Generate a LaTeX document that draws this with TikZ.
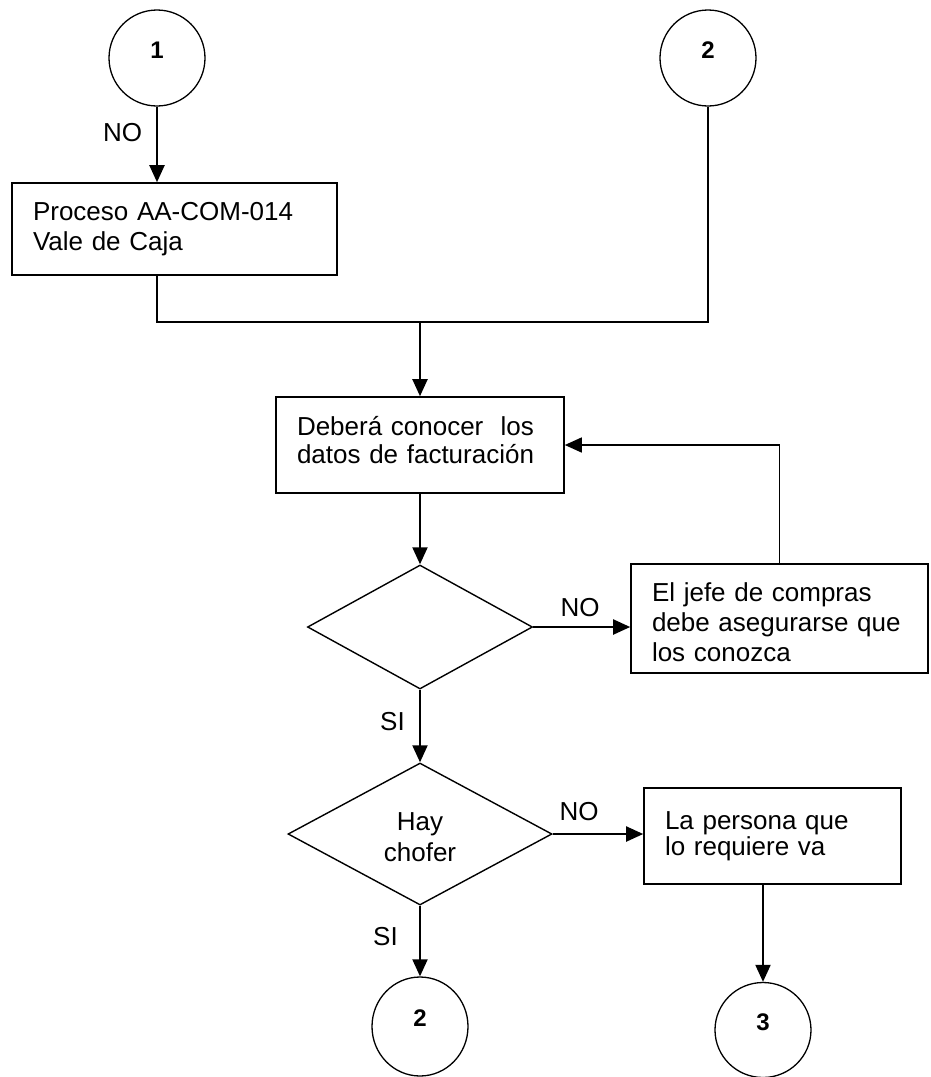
\documentclass[tikz,border=0pt]{standalone}
\usepackage{fontspec}
\setmainfont{Liberation Sans}
\usetikzlibrary{shapes.geometric,arrows.meta,calc}
\begin{document}
\begin{tikzpicture}[x=1pt,y=-1pt,
  txt/.style={font=\fontsize{26}{30}\selectfont},
  procbox/.style={txt, draw, line width=1.6pt, rectangle, align=left, inner xsep=21pt, inner ysep=0pt},
  decision/.style={txt, draw, line width=1.4pt, diamond, inner sep=0pt, align=center},
  connector/.style={draw, line width=1.3pt, circle, inner sep=0pt, minimum size=96pt},
  connectorB/.style={draw, line width=1.3pt, ellipse, inner sep=0pt, minimum width=96pt},
  digit/.style={font=\bfseries\fontsize{24}{28}\selectfont, inner sep=0pt, yshift=8pt},
  edgelabel/.style={txt, inner sep=0pt},
  arr/.style={line width=2pt, -{Triangle[length=17pt,width=15pt]}},
  plain/.style={line width=1.6pt}]
\useasboundingbox (0,0) rectangle (930,1077);

% connectors (circles)
\node[connector, label={[digit]center:1}] (c1) at (157,58) {};
\node[connector, label={[digit]center:2}] (c2t) at (708,58) {};
\node[connectorB, minimum height=99pt, label={[digit]center:2}] (c2b) at (420,1026.5) {};
\node[connectorB, minimum height=95pt, label={[digit]center:3}] (c3) at (763,1030) {};

% process boxes
\node[procbox, text width=283pt, minimum height=92pt] (b1) at (174.5,229) {Proceso AA-COM-014\\Vale de Caja};
\node[procbox, text width=246pt, minimum height=96pt] (b2) at (420,445) {Deberá conocer\ \ los\\[-2pt]datos de facturación\rule[-10pt]{0pt}{10pt}};
\node[procbox, text width=255pt, minimum height=109pt] (b3) at (779.5,618.5) {\rule{0pt}{27pt}El jefe de compras\\debe asegurarse que\\los conozca};
\node[procbox, text width=215pt, minimum height=96pt] (b4) at (772.5,836) {La persona que\\[-4pt]lo requiere va};

% decisions
\node[decision, minimum width=225pt, minimum height=124pt] (d1) at (420,627) {};
\node[decision, minimum width=264pt, minimum height=142pt] (d2) at (420,834) {\rule{0pt}{25pt}Hay\\[1pt]chofer};

% edge labels
\node[edgelabel] (l1) at (122.5,133) {NO};
\node[edgelabel] (l2) at (580,608) {NO};
\node[edgelabel] (l3) at (392.5,722) {SI};
\node[edgelabel] (l4) at (579,812) {NO};
\node[edgelabel] (l5) at (385.5,937) {SI};

% junction
\coordinate (j) at (420,322);

% connectors
\draw[arr] (c1.south) -- (c1.south |- b1.north);
\draw[plain] (c1.south |- b1.south) -- (c1.south |- j) -- (j -| c2t.south) -- (c2t.south);
\draw[arr] (j) -- (b2.north);
\draw[arr] (b2.south) -- (d1.north);
\draw[arr] (d1.east) -- (d1.east -| b3.west);
\draw[arr, line width=1.6pt] (b3.north) |- (b2.east);
\draw[arr] (d1.south) -- (d2.north);
\draw[arr] (d2.east) -- (d2.east -| b4.west);
\draw[arr] (d2.south) -- (c2b.north);
\draw[arr] (c3.north |- b4.south) -- (c3.north);
\end{tikzpicture}
\end{document}
